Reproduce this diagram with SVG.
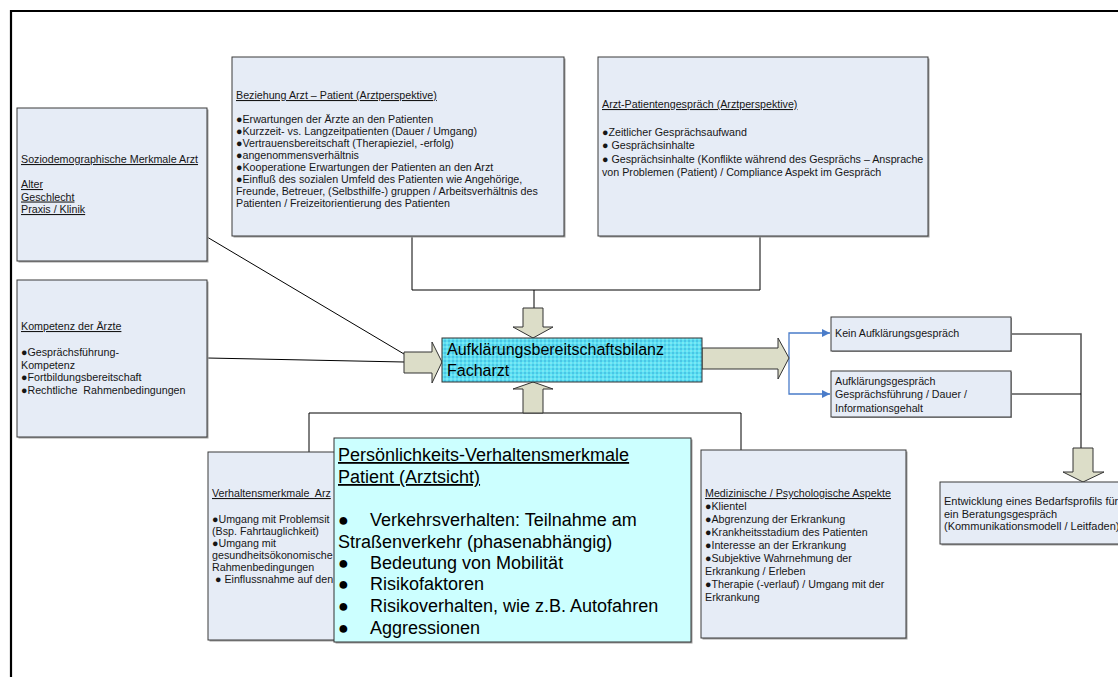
<svg xmlns="http://www.w3.org/2000/svg" width="1118" height="677" viewBox="0 0 1118 677">
  <defs>
    <style>
      .box { fill: #E6ECF6; stroke: #3a3a3a; stroke-width: 1; }
      .shadow { fill: #a0a0a0; }
      .t { font-family: "Liberation Sans", Arial, sans-serif; font-size: 10.7px; fill: #161616; white-space: pre; }
      .u { text-decoration: underline; }
      .big { font-size: 18px; fill: #000; }
      .mid { font-size: 16px; fill: #000; }
      .blk { fill: #DCDDC8; stroke: #333; stroke-width: 1; stroke-linejoin: miter; }
      .conn { fill: none; stroke: #000; stroke-width: 1; }
      .gray { fill: none; stroke: #595959; stroke-width: 1.6; }
      .blue { fill: none; stroke: #4A7CC9; stroke-width: 1.3; marker-end: url(#bluehead); }
    </style>
    <marker id="bluehead" viewBox="0 0 10 10" refX="10" refY="5" markerWidth="8" markerHeight="8" markerUnits="userSpaceOnUse" orient="auto">
      <path d="M0,0 L10,5 L0,10 Z" fill="#4A7CC9"/>
    </marker>
    <pattern id="dots" width="4" height="4" patternUnits="userSpaceOnUse">
      <rect width="4" height="4" fill="#5CE0F2"/>
      <circle cx="1" cy="1" r="0.75" fill="#2F9ED6"/>
      <circle cx="3" cy="3" r="0.75" fill="#A8F2FB"/>
    </pattern>
  </defs>

  <rect width="1118" height="677" fill="#fff"/>

  <!-- page frame -->
  <path d="M11,677 V11 H1118" fill="none" stroke="#000" stroke-width="2.2"/>

  <!-- connectors -->
  <g id="connectors">
    <path class="conn" d="M412,236 V290 H760 V236"/>
    <path class="conn" d="M534,290 V308"/>
    <path class="conn" d="M309,452 V413 H741 V450"/>
    <path class="conn" d="M207,237 L404,354"/>
    <path class="conn" d="M207,358 L404,362"/>
    <path class="blue" d="M789,358 V333 H830"/>
    <path class="blue" d="M789,358 V394 H830"/>
    <path class="gray" d="M1011,334 H1081 V448"/>
    <path class="conn" d="M1011,394 H1081"/>
  </g>

  <!-- block arrows -->
  <g id="arrows">
    <path class="blk" d="M523,308 H543 V327 H553 L533,338 L513,327 H523 Z"/>
    <path class="blk" d="M523,413 H543 V389 H553 L533,382 L513,389 H523 Z"/>
    <path class="blk" d="M404,352 H432 V342 L442,362 L432,383 V373 H404 Z"/>
    <path class="blk" d="M702,348 H778 V338 L789,358 L778,379 V369 H702 Z"/>
    <path class="blk" d="M1073,448 H1093 V472 H1104 L1083,482 L1063,472 H1073 Z"/>
  </g>

  <g id="sozio">
    <rect class="shadow" x="18.5" y="109.5" width="190" height="153"/>
    <rect class="box" x="17" y="108" width="190" height="153"/>
    <text class="t u" x="21" y="163">Soziodemographische Merkmale Arzt</text>
    <text class="t u" x="21" y="188">Alter</text>
    <text class="t u" x="21" y="200.5">Geschlecht</text>
    <text class="t u" x="21" y="213">Praxis / Klinik</text>
  </g>

  <g id="kompetenz">
    <rect class="shadow" x="18.5" y="281.5" width="190" height="157"/>
    <rect class="box" x="17" y="280" width="190" height="157"/>
    <text class="t u" x="21" y="330">Kompetenz der Ärzte</text>
    <text class="t" x="21" y="356">●Gesprächsführung-</text>
    <text class="t" x="21" y="368.5">Kompetenz</text>
    <text class="t" x="21" y="381">●Fortbildungsbereitschaft</text>
    <text class="t" x="21" y="393.5" xml:space="preserve">●Rechtliche  Rahmenbedingungen</text>
  </g>

  <g id="beziehung">
    <rect class="shadow" x="233.5" y="58.5" width="332" height="179"/>
    <rect class="box" x="232" y="57" width="332" height="179"/>
    <text class="t u" x="236" y="99">Beziehung Arzt – Patient (Arztperspektive)</text>
    <text class="t" x="236" y="123">●Erwartungen der Ärzte an den Patienten</text>
    <text class="t" x="236" y="135">●Kurzzeit- vs. Langzeitpatienten (Dauer / Umgang)</text>
    <text class="t" x="236" y="147">●Vertrauensbereitschaft (Therapieziel, -erfolg)</text>
    <text class="t" x="236" y="159">●angenommensverhältnis</text>
    <text class="t" x="236" y="171">●Kooperatione Erwartungen der Patienten an den Arzt</text>
    <text class="t" x="236" y="183">●Einfluß des sozialen Umfeld des Patienten wie Angehörige,</text>
    <text class="t" x="236" y="195">Freunde, Betreuer, (Selbsthilfe-) gruppen / Arbeitsverhältnis des</text>
    <text class="t" x="236" y="207">Patienten / Freizeitorientierung des Patienten</text>
  </g>

  <g id="gespraech">
    <rect class="shadow" x="599.5" y="58.5" width="330" height="179"/>
    <rect class="box" x="598" y="57" width="330" height="179"/>
    <text class="t u" x="602" y="108">Arzt-Patientengespräch (Arztperspektive)</text>
    <text class="t" x="602" y="136">●Zeitlicher Gesprächsaufwand</text>
    <text class="t" x="602" y="149">● Gesprächsinhalte</text>
    <text class="t" x="602" y="163">● Gesprächsinhalte (Konflikte während des Gesprächs – Ansprache</text>
    <text class="t" x="602" y="176">von Problemen (Patient) / Compliance Aspekt im Gespräch</text>
  </g>

  <g id="bilanz">
    <rect x="442" y="338" width="260" height="44" fill="url(#dots)" stroke="#333" stroke-width="1"/>
    <text class="t mid" x="447" y="355">Aufklärungsbereitschaftsbilanz</text>
    <text class="t mid" x="447" y="376">Facharzt</text>
  </g>

  <g id="kein">
    <rect class="shadow" x="832" y="318" width="180" height="34"/>
    <rect class="box" x="831" y="317" width="180" height="34"/>
    <text class="t" x="835" y="337">Kein Aufklärungsgespräch</text>
  </g>

  <g id="aufklaerung">
    <rect class="shadow" x="832" y="372" width="180" height="46"/>
    <rect class="box" x="831" y="371" width="180" height="46"/>
    <text class="t" x="835" y="385">Aufklärungsgespräch</text>
    <text class="t" x="835" y="398">Gesprächsführung / Dauer /</text>
    <text class="t" x="835" y="411.5">Informationsgehalt</text>
  </g>

  <g id="bedarfsprofil">
    <rect class="shadow" x="941.5" y="483.5" width="190" height="62"/>
    <rect class="box" x="940" y="482" width="190" height="62"/>
    <text class="t" x="944" y="505" style="font-size:11px">Entwicklung eines Bedarfsprofils für</text>
    <text class="t" x="944" y="517.5" style="font-size:11px">ein Beratungsgespräch</text>
    <text class="t" x="944" y="530" style="font-size:11px">(Kommunikationsmodell / Leitfaden)</text>
  </g>

  <g id="verhalten-arzt">
    <rect class="shadow" x="209.5" y="453.5" width="140" height="188"/>
    <rect class="box" x="208" y="452" width="140" height="188"/>
    <text class="t u" x="212" y="497" xml:space="preserve">Verhaltensmerkmale  Arz</text>
    <text class="t" x="212" y="523">●Umgang mit Problemsit</text>
    <text class="t" x="212" y="535">(Bsp. Fahrtauglichkeit)</text>
    <text class="t" x="212" y="547">●Umgang mit</text>
    <text class="t" x="212" y="559">gesundheitsökonomische</text>
    <text class="t" x="212" y="571">Rahmenbedingungen</text>
    <text class="t" x="212" y="583" xml:space="preserve"> ● Einflussnahme auf den</text>
  </g>

  <g id="medizin">
    <rect class="shadow" x="702.5" y="451.5" width="205" height="188"/>
    <rect class="box" x="701" y="450" width="205" height="188"/>
    <text class="t u" x="705" y="497">Medizinische / Psychologische Aspekte</text>
    <text class="t" x="705" y="510">●Klientel</text>
    <text class="t" x="705" y="523">●Abgrenzung der Erkrankung</text>
    <text class="t" x="705" y="536">●Krankheitsstadium des Patienten</text>
    <text class="t" x="705" y="549">●Interesse an der Erkrankung</text>
    <text class="t" x="705" y="562">●Subjektive Wahrnehmung der</text>
    <text class="t" x="705" y="575">Erkrankung / Erleben</text>
    <text class="t" x="705" y="588">●Therapie (-verlauf) / Umgang mit der</text>
    <text class="t" x="705" y="601">Erkrankung</text>
  </g>

  <g id="persoenlichkeit">
    <rect class="shadow" x="335.5" y="439.5" width="357" height="204"/>
    <rect x="334" y="438" width="357" height="204" fill="#CCFFFF" stroke="#333" stroke-width="1"/>
    <text class="t big u" x="338" y="461">Persönlichkeits-Verhaltensmerkmale</text>
    <text class="t big u" x="338" y="483">Patient (Arztsicht)</text>
    <text class="t big" x="338" y="526"><tspan x="338">●</tspan><tspan x="370">Verkehrsverhalten: Teilnahme am</tspan></text>
    <text class="t big" x="338" y="548">Straßenverkehr (phasenabhängig)</text>
    <text class="t big" x="338" y="569"><tspan x="338">●</tspan><tspan x="370">Bedeutung von Mobilität</tspan></text>
    <text class="t big" x="338" y="590"><tspan x="338">●</tspan><tspan x="370">Risikofaktoren</tspan></text>
    <text class="t big" x="338" y="612"><tspan x="338">●</tspan><tspan x="370">Risikoverhalten, wie z.B. Autofahren</tspan></text>
    <text class="t big" x="338" y="634"><tspan x="338">●</tspan><tspan x="370">Aggressionen</tspan></text>
  </g>
</svg>
